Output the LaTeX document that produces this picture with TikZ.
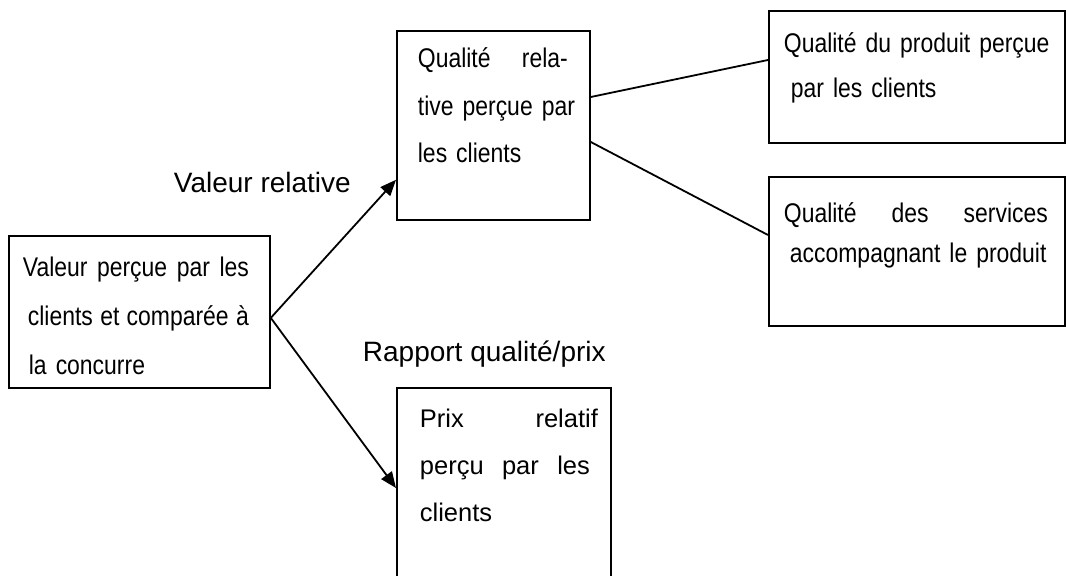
\documentclass[tikz,border=0pt]{standalone}
\usepackage{fontspec}
\setmainfont{Liberation Sans}
\newfontfamily\etroit[FakeStretch=0.85]{Liberation Sans}
\usetikzlibrary{arrows.meta}
\newcommand{\ligne}[2]{\makebox[#1][s]{\spaceskip=0.25em plus 1fil\relax #2}}

\begin{document}
\begin{tikzpicture}[x=0.5pt, y=-0.5pt, line width=0.9pt,
  cadre/.style={draw, inner sep=0pt, anchor=north west},
  texte/.style={anchor=base west, inner sep=0pt, align=left},
  fleche/.style={-{Triangle[length=8pt, width=6.5pt]}}]
  \useasboundingbox (0,0) rectangle (1066,576);
  \clip (0,0) rectangle (1066,576);
  % boxes
  \node[cadre, minimum width=130.5pt, minimum height=76pt] (valeur) at (8,235) {};
  \node[cadre, minimum width=96.5pt, minimum height=94.5pt] (qualite) at (396,30) {};
  \node[cadre, minimum width=148pt, minimum height=66pt] (produit) at (768,10) {};
  \node[cadre, minimum width=148pt, minimum height=74.5pt] (services) at (768,176) {};
  \node[cadre, minimum width=107pt, minimum height=106.5pt] (prix) at (396,387) {};
  % box texts
  \node[texte, text width=120pt, font=\etroit\fontsize{13.5}{24.5}\selectfont] (valeurtxt) at (22,277)
    {\ligne{113pt}{Valeur perçue par les}\\ \hspace*{2.5pt}\ligne{110.5pt}{clients et comparée à}\\ \hspace*{3pt}la concurre};
  \node[texte, text width=85pt, font=\etroit\fontsize{13.5}{23.75}\selectfont] (qualitetxt) at (417,68)
    {\ligne{75pt}{Qualité rela-}\\ tive perçue par\\ les clients};
  \node[texte, text width=140pt, font=\etroit\fontsize{13.5}{22.5}\selectfont] (produittxt) at (783,53)
    {Qualité du produit perçue\\ \hspace*{3.5pt}par les clients};
  \node[texte, text width=140pt, font=\etroit\fontsize{13.5}{20}\selectfont] (servicestxt) at (783,223)
    {\ligne{132pt}{Qualité des services}\\ \hspace*{3pt}accompagnant le produit};
  \node[texte, text width=95pt, font=\fontsize{12.75}{23.5}\selectfont] (prixtxt) at (419,428)
    {\ligne{89pt}{Prix relatif}\\ \ligne{85pt}{perçu par les}\\ clients};
  % labels
  \node[texte, font=\fontsize{14}{16}\selectfont] (relative) at (173,193) {Valeur relative};
  \node[texte, font=\fontsize{14}{16}\selectfont] (rapport) at (362,362) {Rapport qualité/prix};
  % connectors
  \coordinate (depart) at ([yshift=-3pt]valeur.east);
  \draw[fleche] (depart) -- ([yshift=20.5pt]qualite.south west);
  \draw[fleche] (depart) -- ([yshift=-50.5pt]prix.north west);
  \draw ([yshift=-33.5pt]qualite.north east) -- ([yshift=-25pt]produit.north west);
  \draw ([yshift=-56pt]qualite.north east) -- ([yshift=-29.5pt]services.north west);
\end{tikzpicture}
\end{document}
